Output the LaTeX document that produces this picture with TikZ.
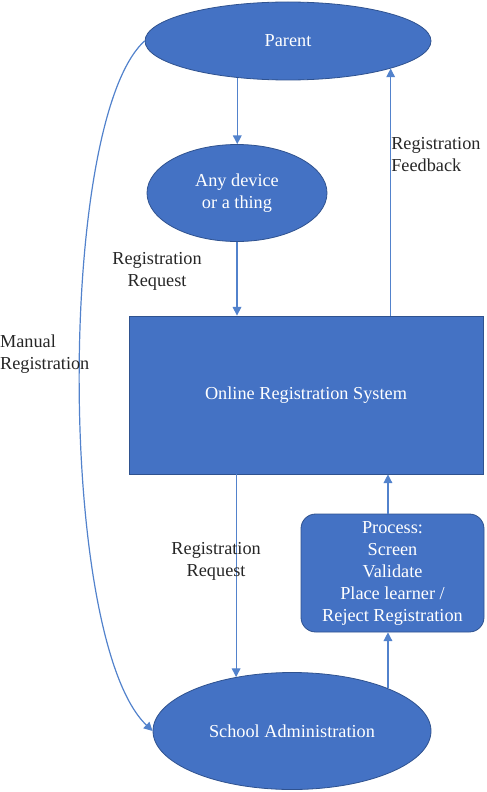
\documentclass[tikz,border=0pt]{standalone}
\usepackage{fontspec}
\setmainfont{Liberation Serif}
\usepackage{xcolor}
\usepackage{tikz}
\usetikzlibrary{arrows.meta,shapes}

\definecolor{shapeblue}{HTML}{4472C4}
\definecolor{rimblue}{HTML}{2F528F}
\definecolor{lineblue}{HTML}{5282CC}

\begin{document}
\begin{tikzpicture}[x=0.75pt, y=-0.75pt, ->, >={Triangle[length=6.5pt,width=6.5pt]},
	every node/.style={font=\fontsize{13.7}{16.5}\selectfont}]

	\tikzstyle{blob}=[ellipse,draw=rimblue,line width=0.6pt,fill=shapeblue,text=white,inner sep=0pt,align=center]
	\tikzstyle{sysbox}=[rectangle,draw=rimblue,line width=0.6pt,fill=shapeblue,text=white,align=center]
	\tikzstyle{procbox}=[sysbox,rounded corners=11pt]
	\tikzstyle{flow}=[draw=lineblue,line width=0.9pt]
	\tikzstyle{lbl}=[text=black!85,inner sep=0pt,align=center]

	\useasboundingbox (0,0) rectangle (486,792);

	\node[blob,minimum width=214.5pt,minimum height=58.5pt] (parent) at (288,41) {Parent};
	\node[blob,minimum width=135pt,minimum height=72.75pt] (device) at (237,193) {Any device\\or a thing};
	\node[sysbox,minimum width=265.5pt,minimum height=118.5pt] (ors) at (306,395) {Online Registration System};
	\node[procbox,minimum width=137.25pt,minimum height=88.5pt] (proc) at (392.5,573) {Process:\\Screen\\Validate\\Place learner /\\Reject Registration};
	\node[blob,minimum width=208.5pt,minimum height=87.75pt] (school) at (292,731) {School Administration};

	% From Parent
	\path (parent.216) edge[flow] (parent.216 |- device.north);
	\draw[flow] (parent.west) .. controls (57,120) and (57,640) .. (school.west)
		node[lbl,pos=.47,anchor=east,xshift=7.5pt,align=left] {Manual\\Registration};

	% From device
	\path (device.south) edge[flow] node[lbl,left=26pt,pos=.4] {Registration\\Request} (device.south |- ors.north);

	% From the system
	\path (ors.south -| school.136) edge[flow] node[lbl,pos=.43,xshift=-15pt] {Registration\\Request} (school.136);
	\path (ors.north -| parent.-15.3) edge[flow] node[lbl,right,align=left,pos=.65] {Registration\\Feedback} (parent.-15.3);

	% From School Administration
	\path (school.24) edge[flow] (school.24 |- proc.south);
	\path (school.24 |- proc.north) edge[flow] (school.24 |- ors.south);

\end{tikzpicture}
\end{document}
